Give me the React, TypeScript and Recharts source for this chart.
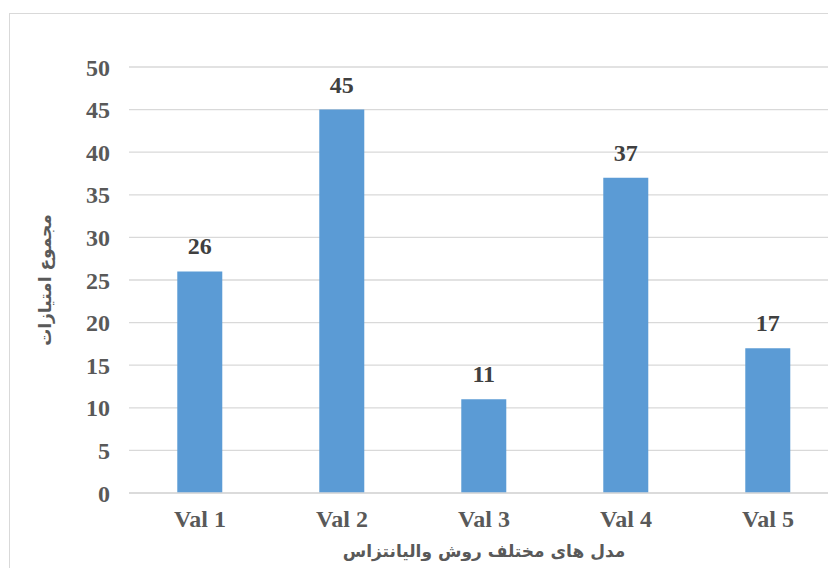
import { BarChart, Bar, XAxis, YAxis, CartesianGrid, LabelList } from "recharts";

const categories = ["Val 1", "Val 2", "Val 3", "Val 4", "Val 5"];
const scores = [26, 45, 11, 37, 17];
const yTicks = [0, 5, 10, 15, 20, 25, 30, 35, 40, 45, 50];

const yTitle = "مجموع امتیازات";
const xTitle = "مدل های مختلف روش والیانتزاس";

const data = categories.map((name, i) => ({ name, score: scores[i] }));

const serif = "'Liberation Serif', 'Times New Roman', serif";
const arabic = "'DejaVu Sans', Arial, sans-serif";

function YTitle({ viewBox }: any) {
  const cx = viewBox.x + 45;
  const cy = viewBox.y + viewBox.height / 2;
  return (
    <text
      x={cx}
      y={cy}
      transform={`rotate(-90, ${cx}, ${cy})`}
      textAnchor="middle"
      dominantBaseline="central"
      fill="#595959"
      fontFamily={arabic}
      fontWeight="bold"
      fontSize={17}
    >
      {yTitle}
    </text>
  );
}

function XTitle({ viewBox }: any) {
  return (
    <text
      x={viewBox.x + viewBox.width / 2}
      y={551}
      textAnchor="middle"
      dominantBaseline="central"
      fill="#595959"
      fontFamily={arabic}
      fontWeight="bold"
      fontSize={17}
    >
      {xTitle}
    </text>
  );
}

export default function App() {
  return (
    <div style={{ position: "relative", width: 828, height: 568, overflow: "hidden", background: "#fff" }}>
      <style>{"body{margin:0}"}</style>
      <div
        style={{
          position: "absolute",
          left: 9,
          top: 13,
          width: 840,
          height: 580,
          border: "1px solid #d9d9d9",
        }}
      />
      <div style={{ position: "absolute", left: 0, top: 0 }}>
        <BarChart
          width={850}
          height={568}
          data={data}
          margin={{ top: 67, right: 11, bottom: 45, left: 0 }}
          barCategoryGap="34%"
        >
          <CartesianGrid vertical={false} stroke="#d9d9d9" strokeWidth={1.3} />
          <XAxis
            dataKey="name"
            height={30}
            axisLine={{ stroke: "#d9d9d9", strokeWidth: 1.5 }}
            tickLine={false}
            tickMargin={11}
            tick={{ fill: "#595959", fontSize: 24, fontWeight: "bold", fontFamily: serif }}
            label={<XTitle />}
          />
          <YAxis
            width={129}
            domain={[0, 50]}
            ticks={yTicks}
            axisLine={false}
            tickLine={false}
            tickMargin={13}
            tick={{ fill: "#595959", fontSize: 24, fontWeight: "bold", fontFamily: serif }}
            label={<YTitle />}
          />
          <Bar dataKey="score" fill="#5b9bd5" isAnimationActive={false}>
            <LabelList
              dataKey="score"
              position="top"
              offset={17}
              fill="#404040"
              fontSize={24}
              fontWeight="bold"
              fontFamily={serif}
            />
          </Bar>
        </BarChart>
      </div>
    </div>
  );
}
